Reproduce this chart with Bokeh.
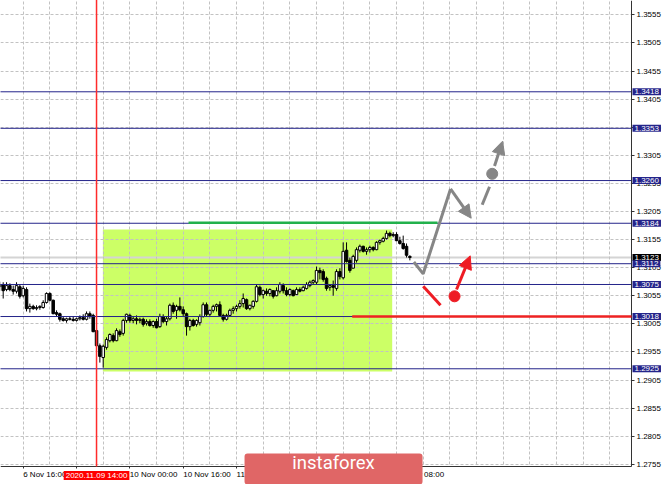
from bokeh.plotting import figure
from bokeh.models import (Range1d, FixedTicker, SingleIntervalTicker, PrintfTickFormatter,
                          Label, Arrow, NormalHead, BoxAnnotation)
from bokeh.core.properties import value
from bokeh.embed import file_html
from bokeh.resources import INLINE

# ---------------- data (H1 candles, index = trading hours from 6 Nov 16:00) ----------------
candle_idx = list(range(-7, 117))
opens = [
    1.3071, 1.3075, 1.3066, 1.3073, 1.3066, 1.3063, 1.3071, 1.3055, 1.3066, 1.3032,
    1.3036, 1.3032, 1.3034, 1.3034, 1.3043, 1.3059, 1.3047, 1.3025, 1.3023, 1.3014,
    1.3011, 1.3014, 1.3013, 1.3011, 1.3014, 1.3016, 1.3013, 1.3023, 1.3020, 1.2993,
    1.2966, 1.2945, 1.2963, 1.2975, 1.2984, 1.2975, 1.2991, 1.2988, 1.3011, 1.3020,
    1.3011, 1.3014, 1.3011, 1.3013, 1.3006, 1.3009, 1.3002, 1.3009, 1.3000, 1.3018,
    1.3009, 1.3014, 1.3038, 1.3029, 1.3036, 1.3030, 1.3023, 1.3000, 1.3011, 1.3004,
    1.3007, 1.3018, 1.3039, 1.3022, 1.3029, 1.3036, 1.3039, 1.3020, 1.3013, 1.3020,
    1.3029, 1.3032, 1.3036, 1.3041, 1.3048, 1.3032, 1.3036, 1.3045, 1.3070, 1.3057,
    1.3063, 1.3059, 1.3064, 1.3055, 1.3063, 1.3073, 1.3064, 1.3057, 1.3064, 1.3057,
    1.3066, 1.3064, 1.3068, 1.3073, 1.3079, 1.3079, 1.3100, 1.3098, 1.3086, 1.3070,
    1.3073, 1.3068, 1.3098, 1.3087, 1.3136, 1.3118, 1.3104, 1.3118, 1.3136, 1.3143,
    1.3134, 1.3137, 1.3141, 1.3137, 1.3150, 1.3152, 1.3157, 1.3166, 1.3162, 1.3164,
    1.3153, 1.3148, 1.3143, 1.3125,
]
highs = [
    1.3080, 1.3079, 1.3079, 1.3077, 1.3073, 1.3079, 1.3075, 1.3073, 1.3070, 1.3041,
    1.3039, 1.3038, 1.3038, 1.3047, 1.3061, 1.3061, 1.3048, 1.3029, 1.3025, 1.3018,
    1.3016, 1.3018, 1.3018, 1.3016, 1.3020, 1.3022, 1.3027, 1.3027, 1.3023, 1.2997,
    1.2970, 1.2968, 1.2981, 1.2988, 1.2988, 1.2997, 1.2995, 1.3014, 1.3023, 1.3023,
    1.3018, 1.3020, 1.3016, 1.3016, 1.3013, 1.3013, 1.3011, 1.3014, 1.3023, 1.3022,
    1.3018, 1.3041, 1.3043, 1.3039, 1.3052, 1.3036, 1.3025, 1.3014, 1.3014, 1.3013,
    1.3022, 1.3043, 1.3043, 1.3030, 1.3039, 1.3041, 1.3045, 1.3023, 1.3023, 1.3032,
    1.3036, 1.3039, 1.3047, 1.3059, 1.3050, 1.3039, 1.3047, 1.3075, 1.3073, 1.3066,
    1.3068, 1.3068, 1.3064, 1.3070, 1.3079, 1.3077, 1.3070, 1.3068, 1.3066, 1.3070,
    1.3070, 1.3073, 1.3079, 1.3082, 1.3084, 1.3107, 1.3105, 1.3102, 1.3089, 1.3075,
    1.3082, 1.3102, 1.3104, 1.3150, 1.3150, 1.3123, 1.3128, 1.3141, 1.3146, 1.3144,
    1.3141, 1.3144, 1.3143, 1.3152, 1.3155, 1.3160, 1.3171, 1.3169, 1.3168, 1.3168,
    1.3160, 1.3162, 1.3148, 1.3127,
]
lows = [
    1.3064, 1.3050, 1.3063, 1.3063, 1.3057, 1.3059, 1.3050, 1.3052, 1.3027, 1.3025,
    1.3030, 1.3029, 1.3030, 1.3032, 1.3041, 1.3045, 1.3022, 1.3018, 1.3009, 1.3009,
    1.3007, 1.3011, 1.3009, 1.3009, 1.3011, 1.3011, 1.3011, 1.3014, 1.2990, 1.2965,
    1.2936, 1.2927, 1.2959, 1.2972, 1.2972, 1.2974, 1.2982, 1.2984, 1.3007, 1.3007,
    1.3006, 1.3004, 1.3006, 1.3000, 1.3002, 1.3000, 1.2998, 1.2997, 1.2998, 1.3006,
    1.3002, 1.3011, 1.3023, 1.3014, 1.3027, 1.3018, 1.2984, 1.2993, 1.3000, 1.3000,
    1.3002, 1.3016, 1.3018, 1.3018, 1.3025, 1.3027, 1.3018, 1.3009, 1.3011, 1.3018,
    1.3023, 1.3027, 1.3032, 1.3034, 1.3030, 1.3029, 1.3032, 1.3043, 1.3054, 1.3050,
    1.3055, 1.3054, 1.3050, 1.3054, 1.3059, 1.3059, 1.3054, 1.3054, 1.3054, 1.3057,
    1.3061, 1.3063, 1.3066, 1.3070, 1.3075, 1.3075, 1.3084, 1.3080, 1.3064, 1.3064,
    1.3055, 1.3064, 1.3084, 1.3084, 1.3114, 1.3096, 1.3104, 1.3114, 1.3132, 1.3132,
    1.3128, 1.3132, 1.3134, 1.3136, 1.3146, 1.3150, 1.3155, 1.3159, 1.3159, 1.3152,
    1.3146, 1.3137, 1.3123, 1.3118,
]
closes = [
    1.3075, 1.3064, 1.3073, 1.3066, 1.3063, 1.3073, 1.3054, 1.3068, 1.3032, 1.3036,
    1.3032, 1.3034, 1.3036, 1.3043, 1.3059, 1.3047, 1.3023, 1.3022, 1.3013, 1.3011,
    1.3014, 1.3013, 1.3011, 1.3014, 1.3016, 1.3013, 1.3023, 1.3018, 1.2991, 1.2966,
    1.2947, 1.2965, 1.2977, 1.2986, 1.2975, 1.2993, 1.2986, 1.3011, 1.3022, 1.3011,
    1.3014, 1.3011, 1.3013, 1.3004, 1.3009, 1.3002, 1.3009, 1.2998, 1.3018, 1.3009,
    1.3014, 1.3038, 1.3027, 1.3036, 1.3030, 1.3023, 1.3000, 1.3011, 1.3002, 1.3011,
    1.3018, 1.3039, 1.3022, 1.3029, 1.3036, 1.3039, 1.3020, 1.3013, 1.3020, 1.3029,
    1.3032, 1.3036, 1.3041, 1.3050, 1.3032, 1.3038, 1.3045, 1.3071, 1.3057, 1.3064,
    1.3059, 1.3066, 1.3054, 1.3064, 1.3075, 1.3064, 1.3057, 1.3066, 1.3055, 1.3066,
    1.3063, 1.3070, 1.3075, 1.3079, 1.3082, 1.3100, 1.3096, 1.3084, 1.3068, 1.3073,
    1.3070, 1.3098, 1.3089, 1.3134, 1.3116, 1.3100, 1.3125, 1.3137, 1.3143, 1.3134,
    1.3137, 1.3141, 1.3137, 1.3150, 1.3153, 1.3157, 1.3166, 1.3162, 1.3164, 1.3153,
    1.3148, 1.3139, 1.3127, 1.3123,
]

# levels drawn on the chart
levels = [1.3418, 1.3353, 1.3260, 1.3184, 1.3112, 1.3075, 1.3018, 1.2925]
bid_price = 1.3123
price_ticks = [1.2755, 1.2805, 1.2855, 1.2905, 1.2955, 1.3005, 1.3055, 1.3105, 1.3155,
               1.3205, 1.3255, 1.3305, 1.3355, 1.3405, 1.3455, 1.3505, 1.3555]
time_ticks = [0, 16, 32, 48, 64, 80, 96, 112]
time_labels = ["6 Nov 16:00", "9 Nov 08:00", "10 Nov 00:00", "10 Nov 16:00",
               "11 Nov 08:00", "12 Nov 00:00", "12 Nov 16:00", "13 Nov 08:00"]
cursor_idx = 22
cursor_label = "2020.11.09 14:00"

# drawn objects (time index, price)
zone_t = [23.9, 110.7]
zone_price = [1.2920, 1.3173]
green_line_t = [49.6, 124.3]
green_line_price = 1.3185
red_line_t = [98.7, 182.49]
red_line_price = 1.3018
gray_path_t = [117.2, 120.0, 128.2]
gray_path_price = [1.3115, 1.3094, 1.3245]
gray_arrow1 = (128.2, 1.3245, 134.4, 1.3193)
gray_dash_t = [137.7, 139.9]
gray_dash_price = [1.3217, 1.3249]
gray_dot = (140.7, 1.3272)
gray_arrow2 = (141.4, 1.3286, 143.8, 1.3330)
red_dash_t = [120.0, 125.2]
red_dash_price = [1.3072, 1.3038]
red_dot = (129.4, 1.3054)
red_arrow = (130.0, 1.3066, 134.1, 1.3126)

# ---------------- layout constants ----------------
T0, T1 = -6.81, 192.69          # visible time range (whole figure width)
P0, P1 = 1.2719, 1.35805        # visible price range (whole figure height)
AXIS_T = 182.49                 # where the price axis sits
AXIS_P = 1.2751                 # where the time axis sits
NAVY = "#24248a"
AX_FONT = "Liberation Sans"

p = figure(width=665, height=484, output_backend="svg", toolbar_location=None,
           x_range=Range1d(T0, T1), y_range=Range1d(P0, P1),
           y_axis_location="right", min_border=0)
p.outline_line_color = None
p.background_fill_color = "white"
p.border_fill_color = "white"

# grid
p.xgrid.ticker = SingleIntervalTicker(interval=8, num_minor_ticks=0)
p.ygrid.ticker = FixedTicker(ticks=price_ticks)
for g in (p.xgrid[0], p.ygrid[0]):
    g.grid_line_color = "#c2c2c2"
    g.grid_line_dash = "3 2"
    g.grid_line_width = 1
# keep the axis margins clean of grid lines
p.add_layout(BoxAnnotation(left=AXIS_T, fill_color="white", fill_alpha=1.0,
                           line_color=None, level="underlay"))
p.add_layout(BoxAnnotation(top=AXIS_P, fill_color="white", fill_alpha=1.0,
                           line_color=None, level="underlay"))

# axes (placed at fixed data locations inside the canvas)
ya = p.yaxis[0]
ya.fixed_location = AXIS_T
ya.bounds = (AXIS_P, P1 + 0.01)
ya.ticker = FixedTicker(ticks=price_ticks)
ya.formatter = PrintfTickFormatter(format="%.4f")
ya.major_label_text_font = AX_FONT
ya.major_label_text_font_size = "8px"
ya.major_label_text_color = "#000000"
ya.major_tick_out = 3
ya.major_tick_in = 0
ya.minor_tick_out = 0
ya.minor_tick_in = 0
ya.major_label_standoff = 2
ya.axis_line_color = "#333333"
ya.major_tick_line_color = "#333333"

xa = p.xaxis[0]
xa.fixed_location = AXIS_P
xa.bounds = (T0 - 5, AXIS_T)
xa.ticker = FixedTicker(ticks=time_ticks)
xa.major_label_overrides = {t: "" for t in time_ticks}
xa.major_tick_out = 2
xa.major_tick_in = 0
xa.minor_tick_out = 0
xa.minor_tick_in = 0
xa.axis_line_color = "#333333"
xa.major_tick_line_color = "#333333"

# time labels, left-aligned on their ticks (MetaTrader style)
p.text(x=time_ticks, y=[AXIS_P] * len(time_ticks), text=time_labels,
       text_font=value(AX_FONT), text_font_size="8px", text_color="#000000",
       text_align="left", text_baseline="top", x_offset=0, y_offset=3)

# green zone (behind the grid)
p.quad(left=[zone_t[0]], right=[zone_t[1]], bottom=[zone_price[0]], top=[zone_price[1]],
       fill_color="#ccff66", line_color=None, level="image")

# bid line
p.segment(x0=[T0 - 5], x1=[AXIS_T], y0=[bid_price], y1=[bid_price],
          line_color="#d4d4d4", line_width=2, level="underlay")

# candles
body_top = [max(o, c) for o, c in zip(opens, closes)]
body_bot = [min(o, c) for o, c in zip(opens, closes)]
fills = ["#ffffff" if c >= o else "#000000" for o, c in zip(opens, closes)]
p.segment(x0=candle_idx, y0=lows, x1=candle_idx, y1=highs, line_color="#000000", line_width=1)
p.vbar(x=candle_idx, width=0.75, top=body_top, bottom=body_bot, fill_color=fills,
       line_color="#000000", line_width=1)

# horizontal levels
n = len(levels)
p.segment(x0=[T0 - 5] * n, x1=[AXIS_T] * n, y0=levels, y1=levels, line_color=NAVY, line_width=1)

# vertical cursor line
p.segment(x0=[cursor_idx], x1=[cursor_idx], y0=[AXIS_P], y1=[P1 + 0.01],
          line_color="#ff2b2b", line_width=1.5, level="overlay")

# drawn lines
p.line(green_line_t, [green_line_price] * 2, line_color="#22b14c", line_width=2.5, level="overlay")
p.line(red_line_t, [red_line_price] * 2, line_color="#ee2222", line_width=2.5, level="overlay")

GRAY = "#868686"
RED = "#ee1c24"
p.line(gray_path_t, gray_path_price, line_color=GRAY, line_width=3, level="overlay")
p.add_layout(Arrow(x_start=gray_arrow1[0], y_start=gray_arrow1[1], x_end=gray_arrow1[2],
                   y_end=gray_arrow1[3], line_color=GRAY, line_width=3, level="overlay",
                   end=NormalHead(size=13, fill_color=GRAY, line_color=GRAY)))
p.line(gray_dash_t, gray_dash_price, line_color=GRAY, line_width=3, level="overlay")
p.scatter([gray_dot[0]], [gray_dot[1]], size=11, fill_color=GRAY, line_color=GRAY, level="overlay")
p.add_layout(Arrow(x_start=gray_arrow2[0], y_start=gray_arrow2[1], x_end=gray_arrow2[2],
                   y_end=gray_arrow2[3], line_color=GRAY, line_width=3, level="overlay",
                   end=NormalHead(size=13, fill_color=GRAY, line_color=GRAY)))
p.line(red_dash_t, red_dash_price, line_color=RED, line_width=3, level="overlay")
p.scatter([red_dot[0]], [red_dot[1]], size=11, fill_color=RED, line_color=RED, level="overlay")
p.add_layout(Arrow(x_start=red_arrow[0], y_start=red_arrow[1], x_end=red_arrow[2],
                   y_end=red_arrow[3], line_color=RED, line_width=3, level="overlay",
                   end=NormalHead(size=13, fill_color=RED, line_color=RED)))

# price labels on the axis
label_x = AXIS_T + 0.3
p.add_layout(Label(x=label_x, y=bid_price, text=f"{bid_price:.4f}", text_font=AX_FONT,
                   text_font_size="8px", text_color="white", text_align="left",
                   text_baseline="middle", background_fill_color="#000000", padding=(2, 1)))
for lv in levels:
    p.add_layout(Label(x=label_x, y=lv, text=f"{lv:.4f}", text_font=AX_FONT,
                       text_font_size="8px", text_color="white", text_align="left",
                       text_baseline="middle", background_fill_color=NAVY, padding=(2, 1)))

# cursor time label
p.add_layout(Label(x=cursor_idx, y=1.2735, text=cursor_label, text_font=AX_FONT,
                   text_font_size="8px", text_color="white", text_align="center",
                   text_baseline="middle", background_fill_color="#ff0000", padding=(2, 0)))

# logo: box reaching the bottom edge, text on top
logo_t = (66.4, 119.8)
logo_top = 1.27742
p.add_layout(BoxAnnotation(left=logo_t[0], right=logo_t[1], top=logo_top,
                           fill_color="#e06666", fill_alpha=1.0, line_color=None,
                           border_radius=3))
p.add_layout(Label(x=(logo_t[0] + logo_t[1]) / 2, y=1.2758, text="instaforex",
                   text_font="Roboto", text_font_size="18.5px", text_color="white",
                   text_align="center", text_baseline="middle"))

open("out.html", "w").write(file_html(p, INLINE))
